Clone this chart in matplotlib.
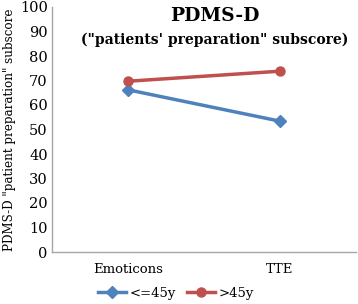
import matplotlib
matplotlib.use("Agg")
import matplotlib.pyplot as plt

categories = ["Emoticons", "TTE"]
young = [66.2, 53.4]
old = [69.7, 73.8]
series_labels = ["<=45y", ">45y"]
yticks = [0, 10, 20, 30, 40, 50, 60, 70, 80, 90, 100]

plt.rcParams['font.family'] = ['DejaVu Serif']

fig = plt.figure(figsize=(3.58, 3.04), dpi=100)
ax = fig.add_axes([52/358, 52/304, 304/358, 245/304])

x = [0, 1]
blue = "#4F81BD"
red = "#C0504D"
ax.plot(x, young, color=blue, lw=2.5, marker="D", ms=6, label=series_labels[0])
ax.plot(x, old, color=red, lw=2.5, marker="o", ms=6.5, label=series_labels[1])

ax.set_xlim(-0.5, 1.5)
ax.set_ylim(0, 100)
ax.set_yticks(yticks)
ax.set_xticks(x)
ax.set_xticklabels(categories, fontsize=9.5)
ax.tick_params(axis='y', labelsize=10.5, length=0, pad=3)
ax.tick_params(axis='x', length=0, pad=8)
for s in ["top", "right"]:
    ax.spines[s].set_visible(False)
for s in ["left", "bottom"]:
    ax.spines[s].set_color("#A6A6A6")
    ax.spines[s].set_linewidth(1)

fig.text(10/358, 1 - 130/304, 'PDMS-D "patient preparation" subscore', rotation=90,
         ha="center", va="center", fontsize=8.6)

fig.text(215/358, 1 - 16/304, "PDMS-D", ha="center", va="center", fontsize=13.5, fontweight="bold")
fig.text(215/358, 1 - 40/304, '("patients\' preparation" subscore)', ha="center", va="center", fontsize=10, fontweight="bold")

fig.legend(loc="center", bbox_to_anchor=(176/358, 1 - 293/304), ncol=2, frameon=False,
           fontsize=9.5, handlelength=2.1, columnspacing=0.9, handletextpad=0.25)

fig.savefig("out.png", dpi=100)
